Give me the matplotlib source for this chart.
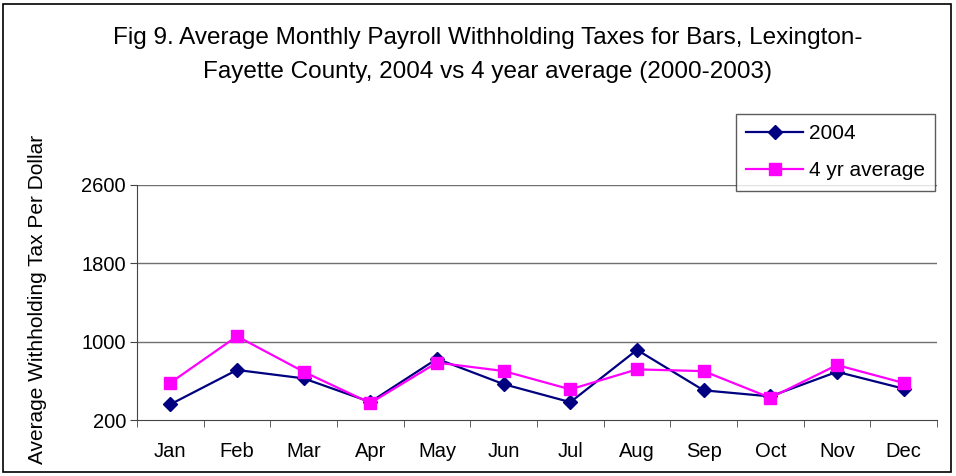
import matplotlib
matplotlib.use('Agg')
import matplotlib.pyplot as plt
from matplotlib.patches import Rectangle
import numpy as np

plt.rcParams['font.family'] = ['Liberation Sans', 'DejaVu Sans']

# Data
months = ['Jan', 'Feb', 'Mar', 'Apr', 'May', 'Jun', 'Jul', 'Aug', 'Sep', 'Oct', 'Nov', 'Dec']
tax_2004 = [360, 711, 625, 384, 825, 566, 382, 916, 503, 441, 692, 520]
tax_4yr = [580, 1055, 693, 373, 786, 700, 513, 717, 699, 427, 761, 578]
y_ticks = [200, 1000, 1800, 2600]

fig = plt.figure(figsize=(9.56, 4.76), dpi=100)
ax = fig.add_axes([137 / 956, 1 - 420 / 476, 800 / 956, 235 / 476])

x = np.arange(len(months))
ax.plot(x, tax_2004, color='#000080', marker='D', markersize=7.5, linewidth=1.6, label='2004')
ax.plot(x, tax_4yr, color='#FF00FF', marker='s', markersize=8, linewidth=1.6, label='4 yr average')

ax.set_xlim(-0.5, len(months) - 0.5)
ax.set_ylim(200, 2600)
ax.set_yticks(y_ticks)
ax.set_yticklabels([str(v) for v in y_ticks], fontsize=14.5)
ax.set_xticks(x)
ax.set_xticklabels(months, fontsize=14.5)
ax.set_xticks(np.arange(-0.5, len(months)), minor=True)
ax.tick_params(axis='x', which='major', length=0, pad=16)
ax.tick_params(axis='x', which='minor', length=5, direction='out', color='#444444')
ax.tick_params(axis='y', length=5, direction='out', pad=3, color='#444444')

for v in y_ticks[1:]:
    ax.axhline(v, color='#707070', linewidth=1.0, zorder=0)

for side in ['top', 'right']:
    ax.spines[side].set_visible(False)
ax.spines['left'].set_color('#444444')
ax.spines['bottom'].set_color('#444444')

ax.set_ylabel('Average Withholding Tax Per Dollar', fontsize=15)
ax.yaxis.set_label_coords(-0.1125, 0.515)

fig.text(0.51, 1 - 38 / 476, 'Fig 9. Average Monthly Payroll Withholding Taxes for Bars, Lexington-',
         ha='center', va='center', fontsize=17.5)
fig.text(0.51, 1 - 72 / 476, 'Fayette County, 2004 vs 4 year average (2000-2003)',
         ha='center', va='center', fontsize=17.5)

leg = fig.legend(loc='upper left', bbox_to_anchor=(736 / 956, 1 - 114 / 476),
                 fontsize=15, frameon=True, fancybox=False, edgecolor='#333333',
                 handlelength=2.7, handletextpad=0.3, borderpad=0.5, labelspacing=0.85,
                 borderaxespad=0)
leg.get_frame().set_linewidth(1.0)

fig.patches.append(Rectangle((3 / 956, 4 / 476), 948 / 956, 468 / 476, transform=fig.transFigure,
                             fill=False, edgecolor='black', linewidth=1.2))

fig.savefig('out.png', dpi=100)
